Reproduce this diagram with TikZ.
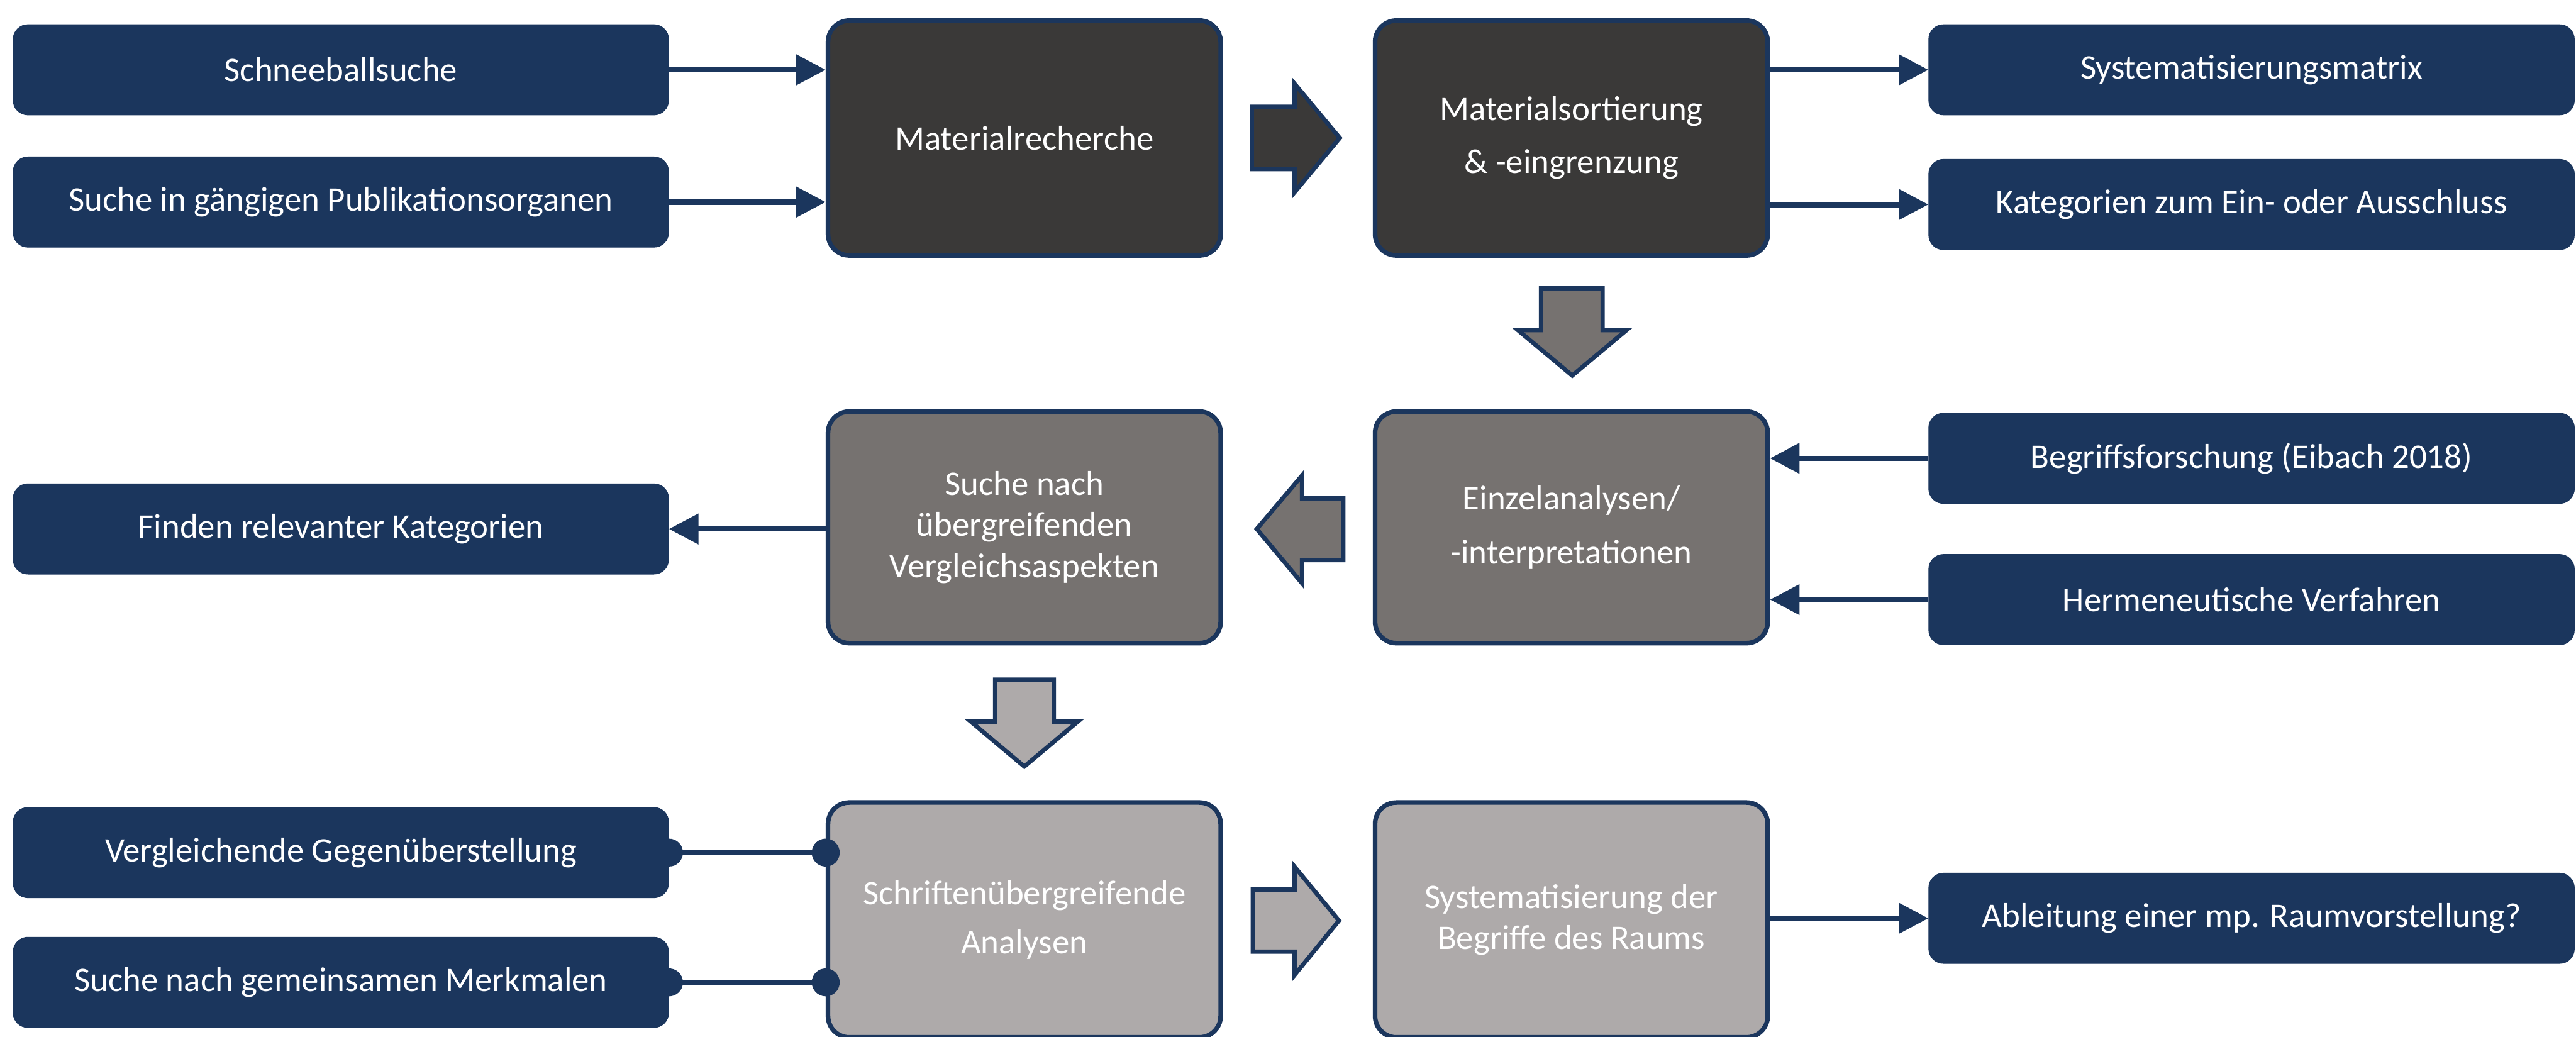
\documentclass[tikz,border=0pt]{standalone}
\usepackage{fontspec}
\setmainfont{Carlito}
\usetikzlibrary{arrows.meta}
\definecolor{navy}{HTML}{1B365D}
\definecolor{darkbox}{HTML}{3A3938}
\definecolor{midbox}{HTML}{767270}
\definecolor{lightbox}{HTML}{AEAAAA}
\tikzset{
  txt/.style={font=\fontsize{21}{25}\selectfont, text=white, align=center, inner sep=0pt},
  smallbox/.style={txt, fill=navy, draw=navy, rounded corners=9pt, minimum width=399pt, minimum height=55pt},
  bigbox/.style={txt, draw=navy, line width=2.8pt, rounded corners=13pt, minimum width=239pt, minimum height=143pt},
  conn/.style={navy, line width=3.3pt, -{Triangle[length=18pt,width=18pt]}},
  dotconn/.style={navy, line width=3.5pt},
  dotend/.style={fill=navy},
  bigarrow/.style={draw=navy, line width=2.6pt, line join=miter}
}
\begin{document}
\begin{tikzpicture}[x=1pt,y=-1pt]
\useasboundingbox (0,0) rectangle (1568,631);

% row 1
\node[smallbox] (s1) at (207.5,42.5) {Schneeballsuche};
\node[smallbox] (s2) at (207.5,123) {Suche in gängigen Publikationsorganen};
\node[bigbox, fill=darkbox] (mr) at (623.5,84) {Materialrecherche};
\node[bigbox, fill=darkbox] (ms) at (956.5,84) {Materialsortierung\\[7pt]\& -eingrenzung};
\node[smallbox, minimum width=393pt] (sm) at (1370.5,42.5) {Systematisierungsmatrix};
\node[smallbox, minimum width=393pt] (ka) at (1370.5,124.5) {Kategorien zum Ein- oder Ausschluss};

% row 2
\node[bigbox, fill=midbox, minimum height=141pt] (sv) at (623.5,321) {Suche nach\\übergreifenden\\Vergleichsaspekten};
\node[bigbox, fill=midbox, minimum height=141pt] (ea) at (956.5,321) {Einzelanalysen/\\[8pt]-interpretationen};
\node[smallbox] (fr) at (207.5,322) {Finden relevanter Kategorien};
\node[smallbox, minimum width=393pt] (bf) at (1370.5,279) {Begriffsforschung (Eibach 2018)};
\node[smallbox, minimum width=393pt] (hv) at (1370.5,365) {Hermeneutische Verfahren};

% row 3
\node[bigbox, fill=lightbox] (sa) at (623.5,560) {Schriftenübergreifende\\[5pt]Analysen};
\node[bigbox, fill=lightbox] (sy) at (956.5,560) {Systematisierung der\\Begriffe des Raums};
\node[smallbox] (vg) at (207.5,519) {Vergleichende Gegenüberstellung};
\node[smallbox] (sg) at (207.5,598) {Suche nach gemeinsamen Merkmalen};
\node[smallbox, minimum width=393pt] (ab) at (1370.5,559) {Ableitung einer mp. Raumvorstellung?};

% connectors
\draw[conn] (s1.east) -- (mr.west |- s1.east);
\draw[conn] (s2.east) -- (mr.west |- s2.east);
\draw[conn] (ms.east |- sm.west) -- (sm.west);
\draw[conn] (ms.east |- ka.west) -- (ka.west);
\draw[conn] (bf.west) -- (ea.east |- bf.west);
\draw[conn] (hv.west) -- (ea.east |- hv.west);
\draw[conn] (sv.west |- fr.east) -- (fr.east);
\draw[conn] (sy.east |- ab.west) -- (ab.west);

\draw[dotconn] (vg.east) -- (sa.west |- vg.east);
\draw[dotconn] (sg.east) -- (sa.west |- sg.east);
\fill[dotend] (vg.east) circle (8.5pt);
\fill[dotend] (sa.west |- vg.east) circle (8.5pt);
\fill[dotend] (sg.east) circle (8.5pt);
\fill[dotend] (sa.west |- sg.east) circle (8.5pt);

% block arrows
\draw[bigarrow, fill=darkbox] (762,65) -- (788,65) -- (788,51) -- (815.5,84) -- (788,117) -- (788,103) -- (762,103) -- cycle;
\draw[bigarrow, fill=midbox] (938,175.5) -- (975.5,175.5) -- (975.5,201) -- (990,201) -- (957,228.6) -- (924,201) -- (938,201) -- cycle;
\draw[bigarrow, fill=midbox] (817.7,303.4) -- (792.5,303.4) -- (792.5,289.5) -- (765,322) -- (792.5,355) -- (792.5,341) -- (817.7,341) -- cycle;
\draw[bigarrow, fill=lightbox] (605.7,413.7) -- (641.5,413.7) -- (641.5,439.3) -- (656,439.3) -- (623.5,466.6) -- (591,439.3) -- (605.7,439.3) -- cycle;
\draw[bigarrow, fill=lightbox] (762.6,541.5) -- (788,541.5) -- (788,527.6) -- (815,560.4) -- (788,593.5) -- (788,579.3) -- (762.6,579.3) -- cycle;
\end{tikzpicture}
\end{document}
